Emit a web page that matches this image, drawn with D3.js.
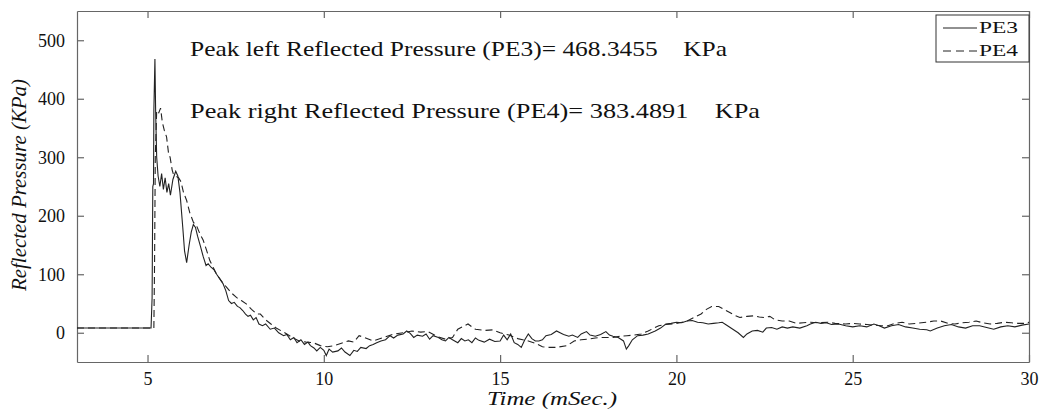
<!DOCTYPE html>
<html>
<head>
<meta charset="utf-8">
<script src="https://cdn.jsdelivr.net/npm/d3@7"></script>
<style>
  body { margin: 0; background: #fff; }
  .axis path, .axis line { stroke: #666; stroke-width: 1.2; }
</style>
</head>
<body>
<div id="chart"></div>
<script>
// axis ticks
var xTicks = [5, 10, 15, 20, 25, 30];
var yTicks = [0, 100, 200, 300, 400, 500];

// PE3 (solid)
var pe3Time = [3.0, 5.10, 5.13, 5.15, 5.17, 5.18, 5.21, 5.23, 5.26, 5.30, 5.35, 5.40, 5.45, 5.50, 5.55, 5.60, 5.65, 5.72, 5.80, 5.86,
  5.92, 6.00, 6.05, 6.11, 6.18, 6.24, 6.30, 6.36, 6.42, 6.50, 6.58, 6.66, 6.72, 6.80, 6.88, 6.96, 7.05, 7.14, 7.22, 7.30,
  7.38, 7.46, 7.55, 7.62, 7.70, 7.78, 7.85, 7.92, 8.00, 8.08, 8.16, 8.26, 8.35, 8.48, 8.60, 8.72, 8.86, 8.95, 9.05, 9.15,
  9.24, 9.35, 9.45, 9.55, 9.62, 9.72, 9.80, 9.90, 10.00, 10.07, 10.15, 10.25, 10.40, 10.50, 10.60, 10.74, 10.85, 10.95, 11.05, 11.20,
  11.30, 11.40, 11.50, 11.62, 11.75, 11.88, 11.98, 12.10, 12.25, 12.35, 12.45, 12.55, 12.65, 12.80, 12.90, 13.00, 13.10, 13.25, 13.35, 13.45,
  13.55, 13.65, 13.80, 13.90, 14.00, 14.10, 14.20, 14.30, 14.40, 14.55, 14.70, 14.85, 15.00, 15.10, 15.20, 15.30, 15.40, 15.50, 15.60, 15.70,
  15.80, 15.90, 16.00, 16.10, 16.20, 16.30, 16.45, 16.60, 16.70, 16.80, 16.95, 17.05, 17.20, 17.30, 17.45, 17.55, 17.70, 17.85, 18.00, 18.10,
  18.20, 18.35, 18.50, 18.58, 18.65, 18.75, 18.90, 19.05, 19.20, 19.40, 19.55, 19.70, 19.85, 20.00, 20.15, 20.30, 20.45, 20.60, 20.75, 20.90,
  21.05, 21.20, 21.30, 21.45, 21.60, 21.75, 21.90, 22.00, 22.15, 22.30, 22.45, 22.55, 22.70, 22.85, 23.00, 23.15, 23.30, 23.50, 23.70, 23.80,
  23.95, 24.10, 24.25, 24.40, 24.60, 24.80, 25.00, 25.20, 25.40, 25.60, 25.75, 25.90, 26.10, 26.30, 26.50, 26.70, 26.90, 27.10, 27.20, 27.40,
  27.60, 27.80, 28.00, 28.20, 28.40, 28.60, 28.80, 29.00, 29.20, 29.40, 29.60, 29.80, 30.00];
var pe3Values = [8, 8, 60, 250, 255, 380, 468, 380, 300, 268, 250, 272, 245, 265, 240, 255, 235, 262, 276, 268,
  240, 180, 140, 120, 150, 172, 185, 180, 165, 148, 130, 115, 118, 112, 108, 100, 92, 84, 72, 55,
  50, 52, 45, 43, 38, 32, 28, 30, 22, 26, 15, 12, 15, 6, 8, 0, -5, -3, -12, -8,
  -17, -12, -20, -16, -22, -26, -31, -25, -30, -39, -28, -33, -31, -26, -33, -39, -30, -32, -25, -27,
  -22, -20, -17, -14, -12, -5, -9, -4, -2, 3, -1, -8, -4, -6, -2, -11, -5, -8, -12, -14,
  -8, -12, -17, -10, -14, -12, -17, -9, -13, -16, -11, -15, -14, -4, -12, -2, -17, -20, -25, -12,
  -2, -10, -14, -14, -12, -5, -3, 3, 0, -3, -6, -4, -8, -2, 2, -4, -6, -3, 2, -4,
  -6, -8, -14, -28, -22, -12, -5, -4, -2, 3, 8, 15, 16, 18, 17, 20, 21, 18, 17, 15,
  16, 17, 18, 12, 6, 0, -8, -2, 3, 4, 1, 8, 9, 6, 10, 8, 10, 8, 12, 15,
  18, 16, 17, 14, 15, 12, 10, 12, 10, 15, 12, 8, 12, 14, 10, 8, 6, 5, 3, 8,
  12, 14, 10, 8, 12, 12, 9, 6, 10, 12, 10, 13, 15];

// PE4 (dashed)
var pe4Time = [3.0, 5.18, 5.20, 5.22, 5.26, 5.32, 5.37, 5.42, 5.48, 5.54, 5.60, 5.64, 5.70, 5.73, 5.80, 5.88, 5.95, 6.02, 6.11, 6.20,
  6.30, 6.39, 6.48, 6.58, 6.68, 6.77, 6.86, 6.96, 7.10, 7.24, 7.38, 7.53, 7.66, 7.81, 7.95, 8.10, 8.20, 8.35, 8.50, 8.65,
  8.80, 8.95, 9.10, 9.30, 9.50, 9.70, 9.90, 10.10, 10.30, 10.50, 10.70, 10.85, 11.00, 11.15, 11.40, 11.70, 12.00, 12.25, 12.50, 12.75,
  12.95, 13.20, 13.45, 13.65, 13.80, 14.09, 14.20, 14.30, 14.55, 14.80, 15.00, 15.25, 15.50, 15.80, 16.00, 16.20, 16.40, 16.60, 16.90, 17.10,
  17.30, 17.50, 17.70, 17.90, 18.20, 18.40, 18.60, 18.80, 19.00, 19.20, 19.50, 19.70, 19.90, 20.10, 20.30, 20.50, 20.70, 20.85, 21.00, 21.20,
  21.35, 21.50, 21.65, 21.80, 22.00, 22.20, 22.35, 22.50, 22.65, 22.80, 23.00, 23.20, 23.40, 23.60, 23.80, 24.00, 24.30, 24.50, 24.80, 25.00,
  25.20, 25.40, 25.60, 25.80, 26.00, 26.20, 26.40, 26.60, 26.80, 27.10, 27.30, 27.50, 27.70, 27.90, 28.10, 28.30, 28.50, 28.70, 28.90, 29.10,
  29.30, 29.50, 29.70, 29.90, 30.00];
var pe4Values = [8, 8, 120, 300, 380, 376, 384, 360, 345, 335, 305, 300, 278, 272, 268, 265, 258, 240, 226, 205,
  189, 183, 170, 158, 140, 123, 112, 100, 88, 78, 68, 60, 55, 49, 40, 32, 32, 22, 15, 8,
  3, -2, -8, -14, -16, -17, -22, -24, -22, -18, -14, -16, -5, -8, -14, -8, -2, 0, 3, 1,
  2, -6, -11, -8, 6, 15, 10, 6, 4, 5, 0, -4, -10, -14, -18, -24, -25, -25, -22, -14,
  -12, -11, -9, -8, -8, -6, -5, -4, -2, 3, 12, 14, 15, 17, 20, 26, 32, 40, 45, 45,
  40, 35, 30, 26, 28, 29, 27, 26, 28, 22, 20, 20, 16, 17, 18, 17, 18, 16, 15, 16,
  15, 14, 13, 12, 12, 16, 18, 15, 16, 18, 20, 20, 16, 15, 17, 18, 20, 17, 15, 16,
  18, 17, 16, 16, 18];

var svgWidth = 1040;
var svgHeight = 410;
var margin = { top: 11, right: 11, bottom: 48, left: 77 };
var width = svgWidth - margin.left - margin.right;
var height = svgHeight - margin.top - margin.bottom;
var serif = "Liberation Serif";

var svg = d3.select("#chart")
  .append("svg")
  .attr("width", svgWidth)
  .attr("height", svgHeight);

var chartGroup = svg.append("g")
  .attr("transform", `translate(${margin.left}, ${margin.top})`);

var xScale = d3.scaleLinear().domain([3, 30]).range([0, width]);
var yScale = d3.scaleLinear().domain([-50, 550]).range([height, 0]);

// axes, ticks pointing inward like matlab
var xAxis = chartGroup.append("g")
  .attr("class", "axis")
  .attr("transform", `translate(0, ${height})`)
  .call(d3.axisBottom(xScale).tickValues(xTicks).tickSize(-7).tickPadding(10).tickSizeOuter(0));

chartGroup.append("g")
  .attr("class", "axis")
  .call(d3.axisTop(xScale).tickValues(xTicks).tickSize(-7).tickFormat("").tickSizeOuter(0));

var yAxis = chartGroup.append("g")
  .attr("class", "axis")
  .call(d3.axisLeft(yScale).tickValues(yTicks).tickSize(-7).tickPadding(12).tickSizeOuter(0));

chartGroup.append("g")
  .attr("class", "axis")
  .attr("transform", `translate(${width}, 0)`)
  .call(d3.axisRight(yScale).tickValues(yTicks).tickSize(-7).tickFormat("").tickSizeOuter(0));

[xAxis, yAxis].forEach(function(ax) {
  ax.attr("font-family", serif).attr("font-size", 18);
  ax.selectAll("text").attr("fill", "#111");
});

var line = d3.line()
  .x(d => xScale(d[0]))
  .y(d => yScale(d[1]));

var pe3 = pe3Time.map((t, i) => [t, pe3Values[i]]);
var pe4 = pe4Time.map((t, i) => [t, pe4Values[i]]);

chartGroup.append("path")
  .datum(pe4)
  .attr("d", line)
  .attr("fill", "none")
  .attr("stroke", "#222")
  .attr("stroke-width", 1.1)
  .attr("stroke-dasharray", "7,4");

chartGroup.append("path")
  .datum(pe3)
  .attr("d", line)
  .attr("fill", "none")
  .attr("stroke", "#222")
  .attr("stroke-width", 1.1);

// annotations (fit to the width measured on the picture)
chartGroup.append("text")
  .attr("x", 190 - margin.left)
  .attr("y", 56 - margin.top)
  .attr("font-family", serif)
  .attr("font-size", 22)
  .attr("fill", "#111")
  .attr("textLength", 537)
  .attr("lengthAdjust", "spacingAndGlyphs")
  .attr("xml:space", "preserve")
  .text("Peak left Reflected Pressure (PE3)= 468.3455    KPa");

chartGroup.append("text")
  .attr("x", 190 - margin.left)
  .attr("y", 118 - margin.top)
  .attr("font-family", serif)
  .attr("font-size", 22)
  .attr("fill", "#111")
  .attr("textLength", 570)
  .attr("lengthAdjust", "spacingAndGlyphs")
  .attr("xml:space", "preserve")
  .text("Peak right Reflected Pressure (PE4)= 383.4891    KPa");

// legend
var legend = chartGroup.append("g")
  .attr("transform", `translate(${width - 93}, 4)`);

legend.append("rect")
  .attr("width", 93)
  .attr("height", 47)
  .attr("fill", "#fff")
  .attr("stroke", "#333")
  .attr("stroke-width", 1);

var legendItems = [{ name: "PE3", dash: null }, { name: "PE4", dash: "8,5" }];
legendItems.forEach(function(item, i) {
  legend.append("line")
    .attr("x1", 7).attr("x2", 41)
    .attr("y1", 13 + i * 23).attr("y2", 13 + i * 23)
    .attr("stroke", "#222")
    .attr("stroke-dasharray", item.dash);
  legend.append("text")
    .attr("x", 43)
    .attr("y", 18 + i * 23)
    .attr("font-family", serif)
    .attr("font-size", 16)
    .attr("fill", "#111")
    .attr("textLength", 39)
    .attr("lengthAdjust", "spacingAndGlyphs")
    .text(item.name);
});

// axis labels
svg.append("text")
  .attr("transform", "rotate(-90)")
  .attr("x", -185)
  .attr("y", 26)
  .attr("text-anchor", "middle")
  .attr("font-family", serif)
  .attr("font-size", 21)
  .attr("font-style", "italic")
  .attr("fill", "#111")
  .attr("textLength", 212)
  .attr("lengthAdjust", "spacingAndGlyphs")
  .text("Reflected Pressure (KPa)");

svg.append("text")
  .attr("x", 552)
  .attr("y", 405)
  .attr("text-anchor", "middle")
  .attr("font-family", serif)
  .attr("font-size", 19)
  .attr("font-style", "italic")
  .attr("fill", "#111")
  .attr("textLength", 130)
  .attr("lengthAdjust", "spacingAndGlyphs")
  .text("Time (mSec.)");
</script>
</body>
</html>
